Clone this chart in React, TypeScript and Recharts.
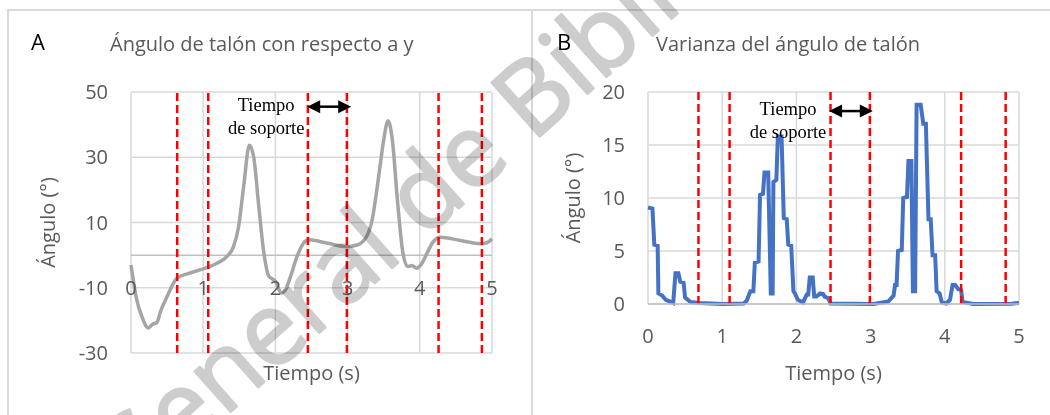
import { LineChart, Line, XAxis, YAxis, CartesianGrid, ReferenceLine } from 'recharts';

// Panel A: heel angle vs y (deg)
const timeA = [0, 0.08, 0.15, 0.24, 0.30, 0.36, 0.41, 0.50, 0.64, 0.80, 1.0, 1.08, 1.19, 1.33, 1.42, 1.49, 1.56, 1.64, 1.70, 1.77, 1.84, 1.91, 2.0, 2.08, 2.14, 2.21, 2.30, 2.39, 2.46, 2.71, 2.99, 3.13, 3.25, 3.34, 3.43, 3.50, 3.56, 3.62, 3.69, 3.76, 3.83, 3.89, 3.96, 4.03, 4.10, 4.19, 4.28, 4.56, 4.84, 4.93, 5.0];
const angleA = [-3, -13.7, -18.8, -22.3, -21.2, -20.6, -17.2, -12.7, -7, -5.6, -4.2, -3.6, -2.5, -0.4, 2.6, 8.7, 21, 33.7, 30, 14.9, 0.7, -6.5, -8, -11.6, -10.6, -6.5, -0.4, 3.7, 4.7, 3.7, 2.6, 3.1, 5.2, 10.8, 24, 35.3, 41.2, 35.3, 16.9, 1.6, -3.5, -3.2, -4, -2.5, 0.6, 4.2, 5.5, 4.5, 3.5, 3.8, 5.0];

// Panel B: variance of heel angle
const timeB = [0, 0.06, 0.085, 0.13, 0.14, 0.19, 0.24, 0.34, 0.37, 0.41, 0.435, 0.48, 0.50, 0.57, 0.70, 1.0, 1.29, 1.33, 1.38, 1.42, 1.44, 1.49, 1.51, 1.55, 1.57, 1.62, 1.655, 1.68, 1.69, 1.73, 1.75, 1.80, 1.83, 1.87, 1.89, 1.93, 1.96, 1.98, 2.02, 2.09, 2.14, 2.16, 2.18, 2.22, 2.24, 2.27, 2.32, 2.36, 2.38, 2.43, 2.46, 3.04, 3.24, 3.31, 3.33, 3.35, 3.37, 3.42, 3.44, 3.49, 3.51, 3.55, 3.57, 3.60, 3.62, 3.675, 3.71, 3.745, 3.78, 3.81, 3.835, 3.87, 3.89, 3.93, 3.96, 4.02, 4.07, 4.105, 4.14, 4.18, 4.22, 4.24, 4.38, 4.9, 5.0];
const varianceB = [9.1, 9.0, 5.6, 5.5, 1.0, 0.8, 0.4, 0.1, 2.9, 2.9, 2.1, 2.0, 0.6, 0.2, 0.1, 0.0, 0.05, 0.3, 1.2, 1.2, 3.9, 4.0, 10.3, 10.4, 12.4, 12.4, 1.0, 1.0, 11.5, 11.7, 15.8, 15.8, 8.1, 8.0, 5.6, 5.5, 1.2, 1.0, 0.4, 0.15, 0.9, 0.9, 2.5, 2.5, 0.7, 0.7, 1.0, 0.95, 0.7, 0.55, 0.05, 0.0, 0.25, 0.8, 1.8, 1.8, 5.0, 5.1, 10.0, 10.1, 13.5, 13.5, 1.2, 1.2, 18.8, 18.8, 17.0, 17.0, 8.0, 8.0, 4.6, 4.6, 1.2, 1.0, 0.15, 0.05, 0.4, 1.8, 1.8, 1.4, 1.3, 0.2, 0.0, 0.02, 0.1];

const xTicks = [0, 1, 2, 3, 4, 5];
const yTicksA = [-30, -10, 10, 30, 50];
const yTicksB = [0, 5, 10, 15, 20];

// red dashed markers (gait events)
const stanceA = [0.64, 1.07, 2.45, 2.99, 4.26, 4.86];
const stanceB = [0.68, 1.10, 2.46, 2.99, 4.22, 4.82];

const arrowA = { from: 2.44, to: 3.05, level: 45.5 };
const arrowB = { from: 2.44, to: 3.03, level: 18.2 };

const FONT = '"Open Sans", sans-serif';
const SERIF = '"Liberation Serif", "Times New Roman", serif';
const GRID = '#D9D9D9';
const TEXT = '#595959';

const dataA = timeA.map((t, i) => ({ t, v: angleA[i] }));
const dataB = timeB.map((t, i) => ({ t, v: varianceB[i] }));

function StanceArrow(props: any) {
    const { x1, y1, x2, y2 } = props;
    const head = 13;
    return (
        <g>
            <line x1={x1 + head - 1} y1={y1} x2={x2 - head + 1} y2={y2} stroke="#000" strokeWidth={2.5} />
            <polygon points={`${x1},${y1} ${x1 + head},${y1 - 6.5} ${x1 + head},${y1 + 6.5}`} fill="#000" />
            <polygon points={`${x2},${y2} ${x2 - head},${y2 - 6.5} ${x2 - head},${y2 + 6.5}`} fill="#000" />
            <text x={x1 - 41} y={y1 + 4} textAnchor="middle" fontFamily={SERIF} fontSize={18.5} fill="#000">Tiempo</text>
            <text x={x1 - 41} y={y1 + 27} textAnchor="middle" fontFamily={SERIF} fontSize={18.5} fill="#000">de soporte</text>
        </g>
    );
}

// panel A puts the x labels next to the y=0 axis, not at the bottom
function RaisedTick(props: any) {
    const { x, y, payload } = props;
    return (
        <text x={x} y={y - 58} textAnchor="middle" fontSize={20} fill={TEXT} fontFamily={FONT}>
            {payload.value}
        </text>
    );
}

function yTitle(offset: number) {
    return ({ viewBox }: any) => {
        const cx = viewBox.x + offset;
        const cy = viewBox.y + viewBox.height / 2;
        return (
            <text x={cx} y={cy} transform={`rotate(-90, ${cx}, ${cy})`} textAnchor="middle"
                fontSize={20} fill={TEXT} fontFamily={FONT}>Ángulo (°)</text>
        );
    };
}

function xTitle(offset: number) {
    return ({ viewBox }: any) => (
        <text x={viewBox.x + viewBox.width / 2} y={viewBox.y + offset} textAnchor="middle"
            fontSize={20} fill={TEXT} fontFamily={FONT}>Tiempo (s)</text>
    );
}

const tickStyle = { fill: TEXT, fontSize: 20, fontFamily: FONT };

export default function App() {
    return (
        <div style={{ position: 'absolute', left: 0, top: 0, width: 1050, height: 415, background: '#fff', overflow: 'hidden', fontFamily: FONT }}>
            <div style={{ position: 'absolute', left: 7, top: 9, width: 522, height: 420, border: `2px solid ${GRID}` }} />
            <div style={{ position: 'absolute', left: 531, top: 9, width: 540, height: 420, border: `2px solid ${GRID}` }} />

            <div style={{ position: 'absolute', left: 31, top: 30, fontSize: 22, lineHeight: 1, color: '#000' }}>A</div>
            <div style={{ position: 'absolute', left: 110, top: 34, fontSize: 20, lineHeight: 1, color: TEXT, whiteSpace: 'nowrap' }}>Ángulo de talón con respecto a y</div>
            <div style={{ position: 'absolute', left: 557, top: 30, fontSize: 22, lineHeight: 1, color: '#000' }}>B</div>
            <div style={{ position: 'absolute', left: 656, top: 34, fontSize: 20, lineHeight: 1, color: TEXT, whiteSpace: 'nowrap' }}>Varianza del ángulo de talón</div>

            <div style={{ position: 'absolute', left: 0, top: 0 }}>
                <LineChart width={530} height={415} data={dataA} margin={{ top: 92, right: 38, bottom: 32, left: 0 }}>
                    <CartesianGrid stroke={GRID} strokeWidth={1.5} />
                    <XAxis dataKey="t" type="number" domain={[0, 5]} ticks={xTicks} height={30}
                        axisLine={false} tickLine={false} tickSize={0} tickMargin={0} tick={RaisedTick}
                        label={{ content: xTitle(27) }} />
                    <YAxis type="number" domain={[-30, 50]} ticks={yTicksA} width={131}
                        axisLine={false} tickLine={false} tickSize={0} tickMargin={23} tick={tickStyle}
                        label={{ content: yTitle(55) }} />
                    <ReferenceLine y={0} stroke="#BFBFBF" strokeWidth={1.5} />
                    <Line dataKey="v" type="monotone" stroke="#A5A5A5" strokeWidth={3.5} dot={false} isAnimationActive={false} />
                    {stanceA.map((x) => (
                        <ReferenceLine key={x} x={x} stroke="#FF0000" strokeWidth={2.5} strokeDasharray="8 4" />
                    ))}
                    <ReferenceLine segment={[{ x: arrowA.from, y: arrowA.level }, { x: arrowA.to, y: arrowA.level }]} shape={StanceArrow} />
                </LineChart>
            </div>

            <div style={{ position: 'absolute', left: 532, top: 0 }}>
                <LineChart width={518} height={415} data={dataB} margin={{ top: 92, right: 31, bottom: 81, left: 0 }}>
                    <CartesianGrid stroke={GRID} strokeWidth={1.5} />
                    <XAxis dataKey="t" type="number" domain={[0, 5]} ticks={xTicks} height={30}
                        axisLine={{ stroke: '#BFBFBF', strokeWidth: 1.5 }} tickLine={false} tickSize={0} tickMargin={25}
                        tick={tickStyle} label={{ content: xTitle(76) }} />
                    <YAxis type="number" domain={[0, 20]} ticks={yTicksB} width={116}
                        axisLine={false} tickLine={false} tickSize={0} tickMargin={23} tick={tickStyle}
                        label={{ content: yTitle(48) }} />
                    <Line dataKey="v" type="linear" stroke="#4472C4" strokeWidth={4} dot={false} isAnimationActive={false} />
                    {stanceB.map((x) => (
                        <ReferenceLine key={x} x={x} stroke="#FF0000" strokeWidth={2.5} strokeDasharray="8 4" />
                    ))}
                    <ReferenceLine segment={[{ x: arrowB.from, y: arrowB.level }, { x: arrowB.to, y: arrowB.level }]} shape={StanceArrow} />
                </LineChart>
            </div>

            <svg width={1050} height={415} style={{ position: 'absolute', left: 0, top: 0, pointerEvents: 'none', mixBlendMode: 'multiply' }}>
                <text x={127} y={504} transform="rotate(-41.7, 127, 504)" fontFamily={FONT} fontSize={101}
                    fill="#CDCDCD" stroke="#CDCDCD" strokeWidth={2.5} strokeLinejoin="round">
                    General de Bibliotecas
                </text>
            </svg>
        </div>
    );
}
